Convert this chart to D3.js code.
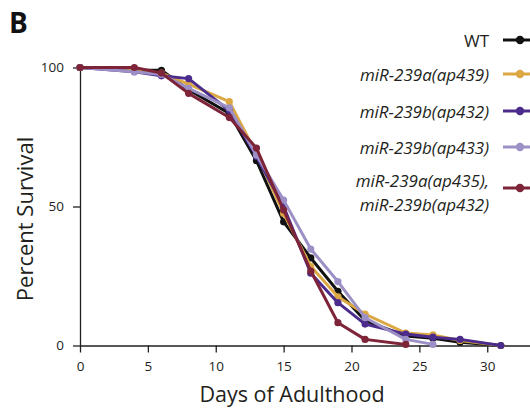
<!DOCTYPE html>
<html>
<head>
<meta charset="utf-8">
<script src="https://cdn.jsdelivr.net/npm/d3@7"></script>
<style>
  body { margin: 0; background: #fff; }
  svg text { font-family: "Open Sans", "Noto Sans", sans-serif; fill: #231f20; }
  .axis path, .axis line { stroke: #231f20; stroke-width: 1.3; }
  .axis text { font-size: 13.5px; }
</style>
</head>
<body>
<div id="chart"></div>
<script>
const days = [0, 4, 6, 8, 11, 13, 15, 17, 19, 21, 24, 26, 28, 31];

const seriesNames = ["WT", "miR-239a(ap439)", "miR-239b(ap432)", "miR-239b(ap433)", "miR-239a(ap435),|miR-239b(ap432)"];
const seriesColors = ["#111111", "#dca843", "#4b2c8c", "#9c90c6", "#7e2439"];

const wtSurvival      = [100, 99, 99, 92, 83.5, 66.5, 44.5, 31.5, 19.5, 9, 3.4, 2.6, 1.2, 0];
const ap439Survival   = [100, 99, 98, 94, 87.7, 69, 47.5, 28.5, 17.5, 11.3, 4.5, 3.8, 1.8, 0];
const ap432Survival   = [100, 98.5, 97, 96, 84.5, 68, 50, 26, 15.4, 7.7, 4.1, 3, 2.2, 0];
const ap433Survival   = [100, 98.5, 97.5, 92.5, 85.5, 68.5, 52.3, 34.7, 23, 10, 2.2, 0.4, null, null];
const doubleSurvival  = [100, 100, 98, 90.7, 82, 71, 48.7, 26.8, 8.2, 2.2, 0.4, null, null, null];

const allSurvival = [wtSurvival, ap439Survival, ap432Survival, ap433Survival, doubleSurvival];

const width = 530, height = 410;

const svg = d3.select("#chart").append("svg")
  .attr("width", width)
  .attr("height", height);

const x = d3.scaleLinear().domain([0, 33.15]).range([80, 530]);
const y = d3.scaleLinear().domain([0, 100]).range([345.5, 67.5]);

svg.append("g")
  .attr("class", "axis")
  .attr("transform", `translate(0,${y(0)})`)
  .call(d3.axisBottom(x).tickValues([0, 5, 10, 15, 20, 25, 30]).tickSize(7).tickSizeOuter(0).tickPadding(9));

svg.append("g")
  .attr("class", "axis")
  .attr("transform", `translate(${x(0)},0)`)
  .call(d3.axisLeft(y).tickValues([0, 50, 100]).tickSize(7).tickSizeOuter(0).tickPadding(9));

svg.append("text")
  .attr("x", 292).attr("y", 402)
  .attr("text-anchor", "middle")
  .style("font-size", "21.5px")
  .text("Days of Adulthood");

svg.append("text")
  .attr("transform", "translate(33,219) rotate(-90)")
  .attr("text-anchor", "middle")
  .style("font-size", "22px")
  .text("Percent Survival");

svg.append("text")
  .attr("x", 9).attr("y", 33)
  .style("font-size", "28px")
  .style("font-weight", "bold")
  .style("fill", "#111")
  .text("B");

const line = d3.line()
  .defined(d => d.v != null)
  .x(d => x(d.day))
  .y(d => y(d.v));

allSurvival.forEach((vals, i) => {
  const pts = days.map((day, j) => ({ day, v: vals[j] })).filter(d => d.v != null);
  const g = svg.append("g");
  g.append("path")
    .datum(pts)
    .attr("fill", "none")
    .attr("stroke", seriesColors[i])
    .attr("stroke-width", 3)
    .attr("stroke-linejoin", "round")
    .attr("d", line);
  g.selectAll("circle")
    .data(pts)
    .enter()
    .append("circle")
    .attr("cx", d => x(d.day))
    .attr("cy", d => y(d.v))
    .attr("r", 3.6)
    .attr("fill", seriesColors[i]);
});

// legend
const legendY = [40, 74, 111, 147, 188];
seriesNames.forEach((name, i) => {
  const g = svg.append("g").attr("transform", `translate(0,${legendY[i]})`);
  const parts = name.split("|");
  parts.forEach((p, k) => {
    g.append("text")
      .attr("x", 489)
      .attr("y", parts.length > 1 ? (k === 0 ? -7 : 17) : 1)
      .attr("dy", "0.35em")
      .attr("text-anchor", "end")
      .style("font-size", "17px")
      .style("font-style", i === 0 ? "normal" : "italic")
      .text(p);
  });
  g.append("line")
    .attr("x1", 503).attr("x2", 530)
    .attr("stroke", seriesColors[i])
    .attr("stroke-width", 3);
  g.append("circle")
    .attr("cx", 520).attr("r", 4.2)
    .attr("fill", seriesColors[i]);
});
</script>
</body>
</html>
